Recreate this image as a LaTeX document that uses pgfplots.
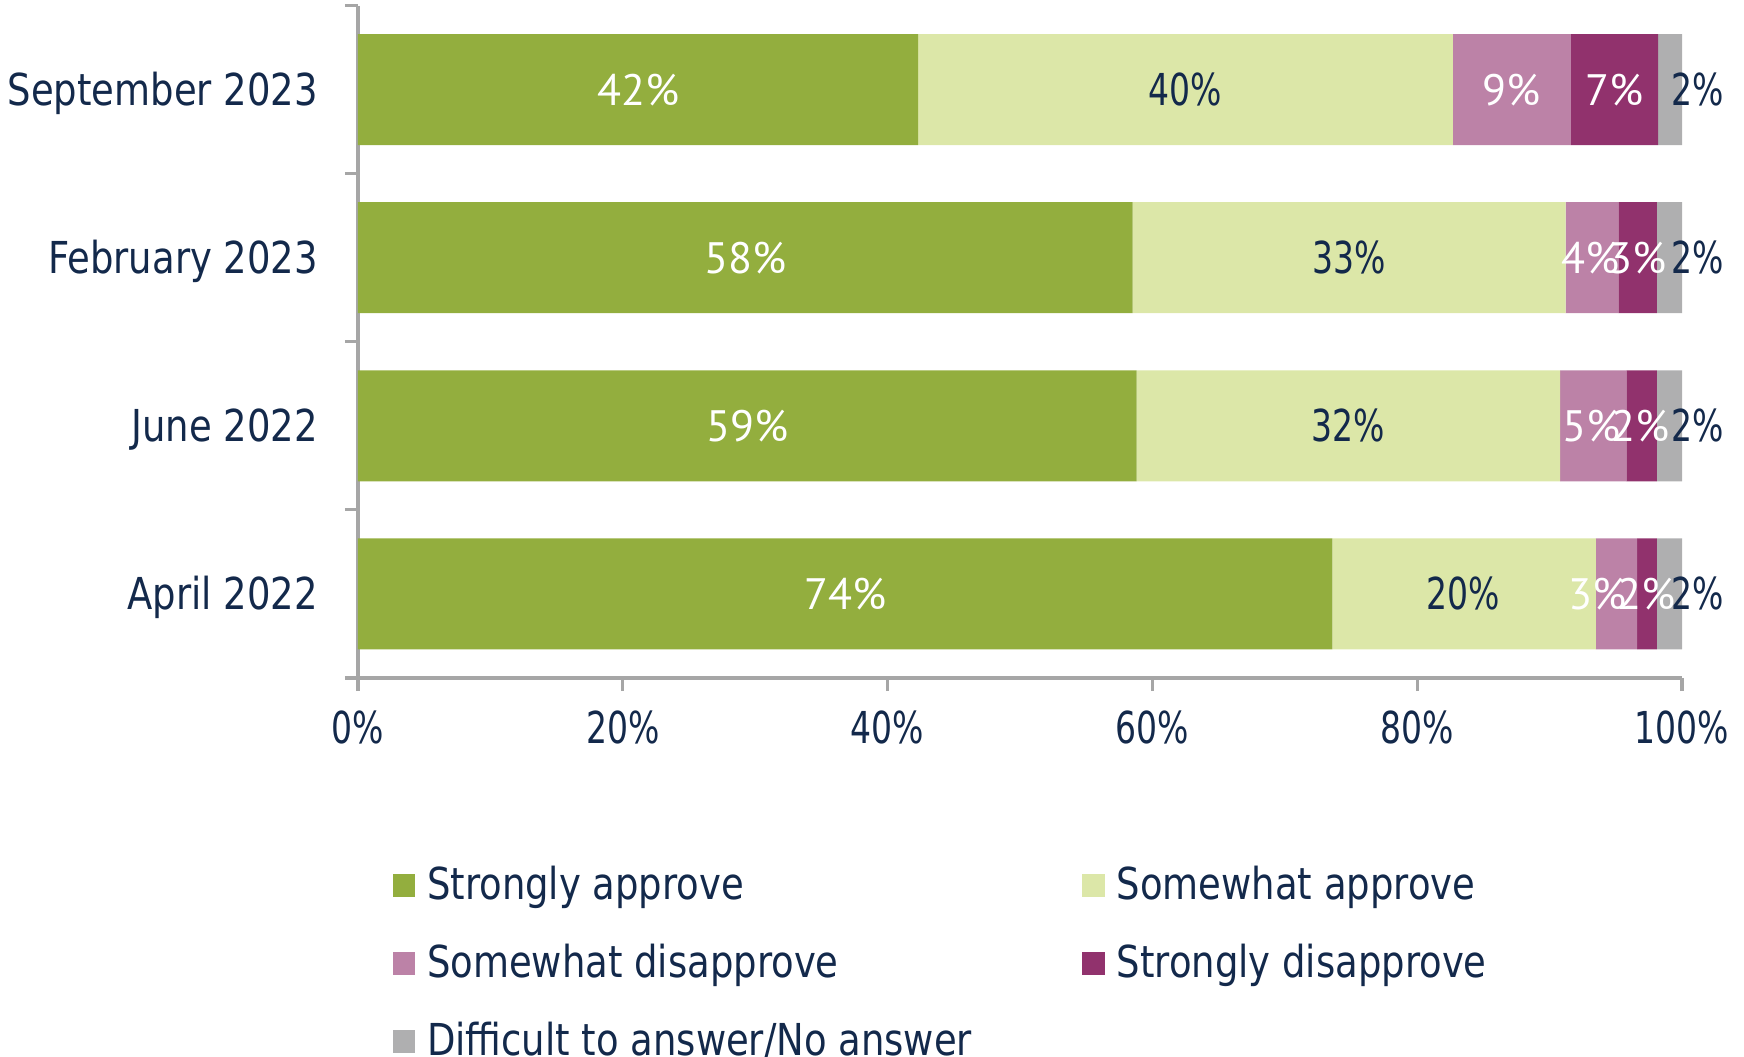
\documentclass[border=0pt]{standalone}
\usepackage{pgfplots}
\pgfplotsset{compat=1.18}
\usepackage{fontspec}
\setmainfont{DejaVu Sans}[FakeStretch=0.84]
\newfontfamily\numfont{DejaVu Sans}[FakeStretch=0.75]
\newfontfamily\labelfont{PT Sans}
\definecolor{navy}{HTML}{13294B}
\definecolor{sa}{HTML}{93AE3E}
\definecolor{swa}{HTML}{DCE7A8}
\definecolor{swd}{HTML}{BC82A7}
\definecolor{sd}{HTML}{91326D}
\definecolor{dk}{HTML}{AFAFB0}
\definecolor{axgray}{HTML}{A6A6A6}
\begin{document}
\begin{tikzpicture}[font=\fontsize{11}{13}\selectfont]
\begin{axis}[
  at={(0pt,0pt)}, anchor=south west,
  scale only axis, width=331pt, height=168.1pt,
  xbar stacked, bar width=27.75pt,
  xmin=0, xmax=100, ymin=-0.5, ymax=3.5,
  axis x line*=bottom, axis y line*=left,
  axis line style={axgray, line width=0.8pt},
  tick align=outside,
  major tick length=3.3pt,
  tick style={axgray, line width=0.8pt},
  xtick={0,20,...,100},
  xticklabel={\pgfmathprintnumber{\tick}\%},
  /pgf/number format/assume math mode=true,
  xticklabel style={text=navy, font=\numfont\fontsize{11}{13}\selectfont, anchor=base, yshift=-13pt},
  ytick={-0.5,0.5,1.5,2.5,3.5},
  yticklabels={},
  extra y ticks={0,1,2,3},
  extra y tick labels={April 2022, June 2022, February 2023, September 2023},
  extra y tick style={major tick length=0pt, yticklabel style={text=navy, anchor=base east, yshift=-4pt, xshift=-6.5pt}},
  legend image code/.code={\fill[#1] (0pt,-2.6pt) rectangle (5.6pt,3.0pt);},
  legend columns=2,
  legend cell align=left,
  legend style={at={(0.0262,-0.2516)}, anchor=north west, draw=none, fill=none,
    inner sep=0pt, outer sep=0pt,
    nodes={inner xsep=3pt, inner ysep=0pt, minimum height=19.5pt, text=navy},
    /tikz/every odd column/.style={column sep=0pt},
    /tikz/every even column/.style={column sep=0pt}},
]
\addplot[fill=sa, draw=none] coordinates {(73.6,0) (58.8,1) (58.5,2) (42.3,3)};
\addlegendentry{\makebox[160.8pt][l]{Strongly approve}}
\addplot[fill=swa, draw=none] coordinates {(19.9,0) (32.0,1) (32.7,2) (40.4,3)};
\addlegendentry{Somewhat approve}
\addplot[fill=swd, draw=none] coordinates {(3.1,0) (5.0,1) (4.0,2) (8.9,3)};
\addlegendentry{\makebox[160.8pt][l]{Somewhat disapprove}}
\addplot[fill=sd, draw=none] coordinates {(1.5,0) (2.3,1) (2.9,2) (6.6,3)};
\addlegendentry{Strongly disapprove}
\addplot[fill=dk, draw=none] coordinates {(1.9,0) (1.9,1) (1.9,2) (1.8,3)};
\addlegendentry{\makebox[160.8pt][l]{Difficult to answer/No answer}}
\end{axis}
\begin{axis}[
  at={(0pt,0pt)}, anchor=south west,
  scale only axis, width=331pt, height=168.1pt,
  xmin=0, xmax=100, ymin=-0.5, ymax=3.5,
  hide axis, clip=false,
]
\addplot[only marks, mark=none, draw=none,
  nodes near coords={\pgfplotspointmeta\%},
  point meta=explicit symbolic,
  every node near coord/.append style={anchor=center, text=white, inner sep=0pt, font=\labelfont\fontsize{11}{13}\selectfont}]
  coordinates {(21.15,3) [42] (87.1,3) [9] (94.9,3) [7]
               (29.25,2) [58] (93.1,2) [4] (96.65,2) [3]
               (29.4,1) [59] (93.2,1) [5] (96.9,1) [2]
               (36.8,0) [74] (93.6,0) [3] (97.3,0) [2]};
\addplot[only marks, mark=none, draw=none,
  nodes near coords={\pgfplotspointmeta\%},
  point meta=explicit symbolic,
  every node near coord/.append style={anchor=center, inner sep=0pt, text=navy, font=\numfont\fontsize{11}{13}\selectfont}]
  coordinates {(62.45,3) [40] (74.85,2) [33] (74.8,1) [32] (83.5,0) [20]
               (101.2,3) [2] (101.2,2) [2] (101.2,1) [2] (101.2,0) [2]};
\end{axis}
\pgfresetboundingbox
\path[use as bounding box] (-89.5pt,-94.75pt) rectangle (346.5pt,169.5pt);
\end{tikzpicture}
\end{document}
